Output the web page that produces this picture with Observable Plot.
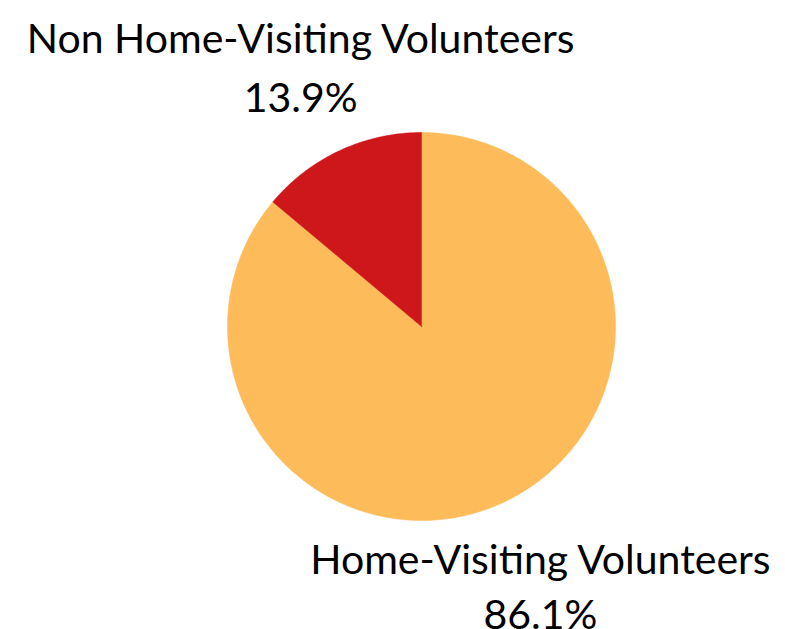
<!DOCTYPE html>
<html>
<head>
<meta charset="utf-8">
<script src="https://cdn.jsdelivr.net/npm/d3@7"></script>
<script src="https://cdn.jsdelivr.net/npm/@observablehq/plot@0.6"></script>
<style>
  html, body { margin: 0; padding: 0; background: #fff; }
  #chart { width: 785px; height: 629px; }
</style>
</head>
<body>
<div id="chart"></div>
<script>
// Data
const categories = ["Home-Visiting Volunteers", "Non Home-Visiting Volunteers"];
const shares = [86.1, 13.9];
const pctLabels = ["86.1%", "13.9%"];
const colors = ["#FDBB5A", "#CD171A"];

// Layout (pixels)
const W = 785, H = 629;
const cx = 421, cy = 326, R = 194;
// label centres relative to pie centre, in radius units
const labelPos = [
  {x: 0.613, y1: -1.276, y2: -1.56},
  {x: -0.623, y1: 1.409, y2: 1.105}
];

const pie = d3.pie().sort(null).value(d => d)(shares);

// Build slice outlines in unit coordinates (y up)
const pts = [];
pie.forEach((p, i) => {
  const n = Math.max(2, Math.ceil((p.endAngle - p.startAngle) / 0.01));
  pts.push({slice: categories[i], x: 0, y: 0});
  for (let k = 0; k <= n; k++) {
    const a = p.startAngle + (p.endAngle - p.startAngle) * k / n;
    pts.push({slice: categories[i], x: Math.sin(a), y: Math.cos(a)});
  }
  pts.push({slice: categories[i], x: 0, y: 0});
});

const labels = [];
categories.forEach((c, i) => {
  labels.push({text: c, x: labelPos[i].x, y: labelPos[i].y1});
  labels.push({text: pctLabels[i], x: labelPos[i].x, y: labelPos[i].y2});
});

const chart = Plot.plot({
  width: W,
  height: H,
  margin: 0,
  style: {fontFamily: "Lato, sans-serif", background: "#fff"},
  x: {domain: [-cx / R, (W - cx) / R], range: [0, W], axis: null},
  y: {domain: [-(H - cy) / R, cy / R], range: [H, 0], axis: null},
  color: {domain: categories, range: colors},
  marks: [
    Plot.line(pts, {x: "x", y: "y", z: "slice", fill: "slice", stroke: "slice", strokeWidth: 0.5, curve: "linear-closed"}),
    Plot.text(labels, {x: "x", y: "y", text: "text", fontSize: 41, fill: "#000", textAnchor: "middle", lineAnchor: "bottom"})
  ]
});
document.getElementById("chart").appendChild(chart);
</script>
</body>
</html>
